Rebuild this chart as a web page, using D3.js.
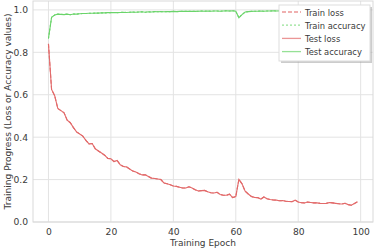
<!DOCTYPE html>
<html>
<head>
<meta charset="utf-8">
<script src="https://cdn.jsdelivr.net/npm/d3@7"></script>
<style>
  body { margin: 0; background: #fff; }
  svg { font-family: "DejaVu Sans", sans-serif; }
</style>
</head>
<body>
<svg id="chart" width="376" height="252"></svg>
<script>
const epochs = d3.range(0, 100);

const testLoss = [
  0.84, 0.625, 0.595, 0.535, 0.525, 0.515, 0.48, 0.468, 0.445, 0.425,
  0.415, 0.405, 0.385, 0.368, 0.37, 0.345, 0.335, 0.325, 0.315, 0.30,
  0.298, 0.285, 0.29, 0.27, 0.262, 0.26, 0.25, 0.24, 0.236, 0.228,
  0.222, 0.223, 0.215, 0.207, 0.205, 0.203, 0.200, 0.184, 0.18, 0.176,
  0.17, 0.168, 0.164, 0.16, 0.16, 0.166, 0.16, 0.152, 0.146, 0.148,
  0.149, 0.143, 0.138, 0.137, 0.14, 0.13, 0.126, 0.126, 0.131, 0.115,
  0.12, 0.201, 0.18, 0.145, 0.132, 0.12, 0.116, 0.115, 0.108, 0.118,
  0.11, 0.106, 0.104, 0.103, 0.1, 0.101, 0.098, 0.097, 0.096, 0.103,
  0.094, 0.091, 0.09, 0.094, 0.092, 0.09, 0.09, 0.088, 0.087, 0.088,
  0.092, 0.09, 0.088, 0.086, 0.085, 0.088, 0.082, 0.079, 0.087, 0.095
];

const testAcc = [
  0.865, 0.965, 0.976, 0.980, 0.979, 0.978, 0.980, 0.977, 0.981, 0.980,
  0.982, 0.983, 0.983, 0.984, 0.984, 0.985, 0.985, 0.986, 0.986, 0.987,
  0.987, 0.988, 0.987, 0.988, 0.989, 0.988, 0.989, 0.990, 0.989, 0.990,
  0.991, 0.989, 0.991, 0.990, 0.992, 0.991, 0.992, 0.991, 0.992, 0.992,
  0.993, 0.992, 0.993, 0.993, 0.994, 0.993, 0.994, 0.993, 0.994, 0.995,
  0.994, 0.995, 0.994, 0.995, 0.995, 0.994, 0.995, 0.996, 0.995, 0.996,
  0.994, 0.963, 0.978, 0.990, 0.992, 0.993, 0.994, 0.994, 0.995, 0.994,
  0.995, 0.995, 0.996, 0.995, 0.996, 0.995, 0.996, 0.996, 0.995, 0.996,
  0.996, 0.997, 0.996, 0.996, 0.997, 0.996, 0.997, 0.996, 0.997, 0.997,
  0.996, 0.997, 0.997, 0.996, 0.997, 0.997, 0.996, 0.997, 0.997, 0.997
];

// train curves sit right under the test ones in the picture
const trainLoss = testLoss.slice();
const trainAcc = testAcc.slice();

const xTicks = [0, 20, 40, 60, 80, 100];
const yTicks = [0.0, 0.2, 0.4, 0.6, 0.8, 1.0];

const red = "#e26a6a";
const green = "#6ad46a";
const textColor = "#3a3a3a";

const width = 376, height = 252;
const margin = {top: 1, right: 3, bottom: 30, left: 33};

const svg = d3.select("#chart");

// shrink/grow a text node's font so it spans roughly the wanted width
function fitText(sel, target) {
  const node = sel.node();
  const size = parseFloat(sel.style("font-size"));
  const len = node.getComputedTextLength();
  sel.style("font-size", (size * target / len).toFixed(2) + "px");
  return sel;
}

const x = d3.scaleLinear()
  .domain([-4.95, 103.95])
  .range([margin.left, width - margin.right]);

const y = d3.scaleLinear()
  .domain([0, 1.042])
  .range([height - margin.bottom, margin.top]);

// grid
svg.append("g")
  .selectAll("line")
  .data(xTicks)
  .join("line")
  .attr("x1", d => x(d)).attr("x2", d => x(d))
  .attr("y1", y.range()[0]).attr("y2", y.range()[1])
  .attr("stroke", "#e3e3e3").attr("stroke-width", 1);

svg.append("g")
  .selectAll("line")
  .data(yTicks)
  .join("line")
  .attr("x1", x.range()[0]).attr("x2", x.range()[1])
  .attr("y1", d => y(d)).attr("y2", d => y(d))
  .attr("stroke", "#e3e3e3").attr("stroke-width", 1);

// frame
svg.append("rect")
  .attr("x", x.range()[0]).attr("y", y.range()[1])
  .attr("width", x.range()[1] - x.range()[0])
  .attr("height", y.range()[0] - y.range()[1])
  .attr("fill", "none").attr("stroke", "#d9d9d9");

// axes
const xAxis = svg.append("g")
  .attr("transform", `translate(0,${y.range()[0]})`)
  .call(d3.axisBottom(x).tickValues(xTicks).tickSize(0).tickPadding(6).tickFormat(d3.format("d")));
const yAxis = svg.append("g")
  .attr("transform", `translate(${x.range()[0]},0)`)
  .call(d3.axisLeft(y).tickValues(yTicks).tickSize(0).tickPadding(5).tickFormat(d3.format(".1f")));

[xAxis, yAxis].forEach(g => {
  g.select(".domain").remove();
  g.selectAll("text").attr("fill", textColor).style("font-size", "9.2px").style("font-family", "DejaVu Sans");
});

const xLabel = svg.append("text")
  .attr("x", x(49.5)).attr("y", height - 6)
  .attr("text-anchor", "middle")
  .attr("fill", textColor).style("font-size", "10px")
  .text("Training Epoch");
fitText(xLabel, 66);

const yLabel = svg.append("text")
  .attr("transform", `translate(11,${(y.range()[0] + y.range()[1]) / 2}) rotate(-90)`)
  .attr("text-anchor", "middle")
  .attr("fill", textColor).style("font-size", "10px")
  .text("Training Progress (Loss or Accuracy values)");
fitText(yLabel, 196);

// lines
const line = d3.line().x((d, i) => x(epochs[i])).y(d => y(d));

const series = [
  {name: "Train loss", values: trainLoss, color: red, dash: "4,2"},
  {name: "Train accuracy", values: trainAcc, color: green, dash: "2,2"},
  {name: "Test loss", values: testLoss, color: red, dash: null},
  {name: "Test accuracy", values: testAcc, color: green, dash: null}
];

svg.append("g")
  .selectAll("path")
  .data(series)
  .join("path")
  .attr("d", d => line(d.values))
  .attr("fill", "none")
  .attr("stroke", d => d.color)
  .attr("stroke-width", 1.1)
  .attr("stroke-dasharray", d => d.dash);

// legend
const lg = svg.append("g").attr("transform", "translate(279,5)");
lg.append("rect")
  .attr("x", 2).attr("y", 2).attr("width", 91).attr("height", 56)
  .attr("fill", "#999").attr("opacity", 0.5);
lg.append("rect")
  .attr("x", 0).attr("y", 0).attr("width", 91).attr("height", 56)
  .attr("fill", "#fff").attr("stroke", "#ddd");

const items = lg.selectAll("g.item")
  .data(series)
  .join("g")
  .attr("class", "item")
  .attr("transform", (d, i) => `translate(0,${7 + i * 13.2})`);

items.append("line")
  .attr("x1", 3).attr("x2", 22)
  .attr("stroke", d => d.color)
  .attr("stroke-opacity", 0.7)
  .attr("stroke-width", 1.3)
  .attr("stroke-dasharray", d => d.dash);

const legendText = items.append("text")
  .attr("x", 26).attr("y", 3.5)
  .attr("fill", textColor).style("font-size", "10px")
  .text(d => d.name);
fitText(legendText.filter(d => d.name === "Train accuracy"), 60.5);
legendText.style("font-size", legendText.filter(d => d.name === "Train accuracy").style("font-size"));
</script>
</body>
</html>
